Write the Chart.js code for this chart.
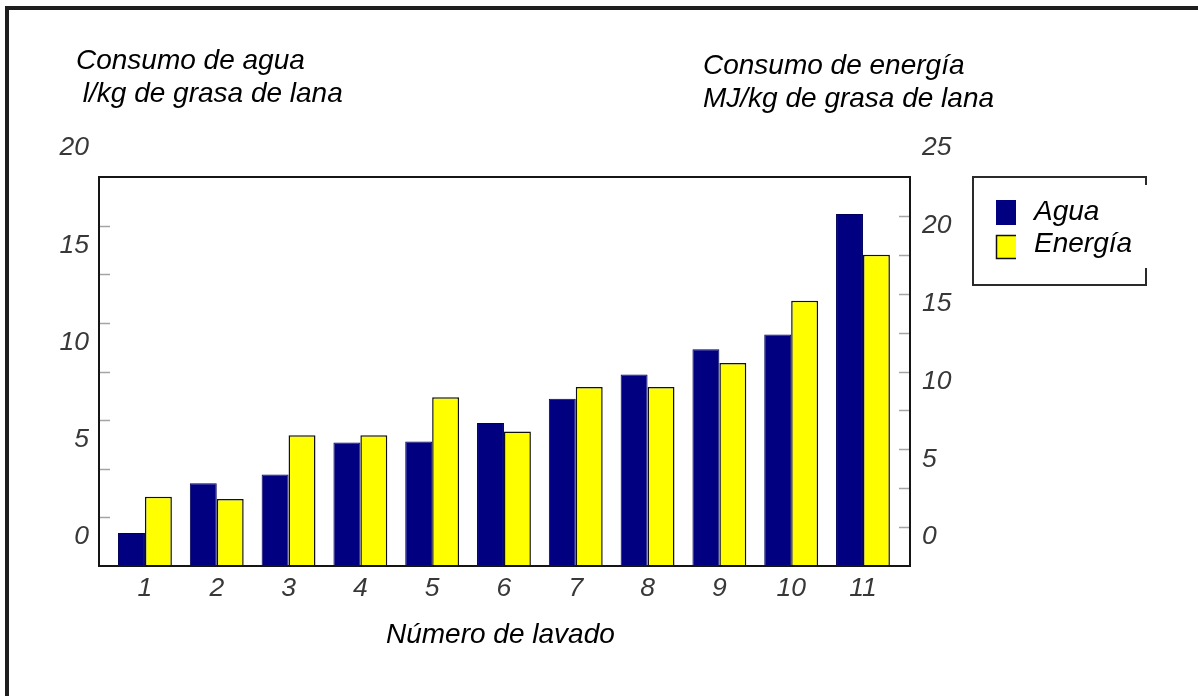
<!DOCTYPE html>
<html>
<head>
<meta charset="utf-8">
<script src="https://cdn.jsdelivr.net/npm/chart.js@4.4.1/dist/chart.umd.min.js"></script>
<style>
  html, body { margin: 0; padding: 0; background: #fff; }
  canvas { display: block; }
</style>
</head>
<body>
<canvas id="c" width="1198" height="696"></canvas>
<script>
// Wool scouring: water and energy use per wash line
const lavados = [1, 2, 3, 4, 5, 6, 7, 8, 9, 10, 11];
const agua = [1.7, 4.25, 4.7, 6.35, 6.4, 7.35, 8.6, 9.85, 11.15, 11.9, 18.1];      // l/kg
const energia = [4.45, 4.3, 8.4, 8.4, 10.85, 8.65, 11.5, 11.5, 13.05, 17.05, 20.0]; // MJ/kg

const aguaTicks = [0, 5, 10, 15, 20];
const energiaTicks = [0, 5, 10, 15, 20, 25];
const minorStep = 2.5;

const seriesNames = ['Agua', 'Energía'];
const seriesColors = ['#000080', '#ffff00'];
const titleAgua = ['Consumo de agua', ' l/kg de grasa de lana'];
const titleEnergia = ['Consumo de energía', 'MJ/kg de grasa de lana'];
const xTitle = 'Número de lavado';

const FAMILY = '"Liberation Sans", Arial, Helvetica, sans-serif';
const tickFont = { family: FAMILY, size: 26.5, style: 'italic' };
const tickColor = '#383838';
const textFont = 'italic 28px ' + FAMILY;

const decor = {
  id: 'decor',
  beforeDraw(chart) {
    const ctx = chart.ctx;
    ctx.save();
    ctx.fillStyle = '#fff';
    ctx.fillRect(0, 0, chart.width, chart.height);
    // page frame
    ctx.strokeStyle = '#1e1e1e';
    ctx.lineWidth = 4;
    ctx.beginPath();
    ctx.moveTo(7, chart.height);
    ctx.lineTo(7, 8);
    ctx.lineTo(chart.width, 8);
    ctx.stroke();
    ctx.restore();
  },
  afterDatasetsDraw(chart) {
    const { ctx, chartArea: a, scales } = chart;
    ctx.save();
    // short inner tick marks on both value axes
    ctx.strokeStyle = '#a4a4a4';
    ctx.lineWidth = 1.5;
    const inner = (scale, x0, dir) => {
      scale.ticks.forEach(t => {
        if (t.value <= scale.min || t.value >= scale.max) return;
        const p = Math.round(scale.getPixelForValue(t.value)) + 0.5;
        ctx.beginPath();
        ctx.moveTo(x0, p);
        ctx.lineTo(x0 + dir * 11, p);
        ctx.stroke();
      });
    };
    inner(scales.y, a.left, 1);
    inner(scales.y1, a.right, -1);
    // plot frame
    ctx.strokeStyle = '#151515';
    ctx.lineWidth = 2;
    ctx.strokeRect(a.left, a.top, a.right - a.left, a.bottom - a.top);
    ctx.restore();
  },
  afterDraw(chart) {
    const { ctx, chartArea: a } = chart;
    ctx.save();
    ctx.fillStyle = '#000';
    ctx.font = textFont;
    ctx.textAlign = 'left';
    ctx.textBaseline = 'alphabetic';
    // axis headings
    ctx.fillText(titleAgua[0], 76, 69);
    ctx.fillText(titleAgua[1], 75, 102);
    ctx.fillText(titleEnergia[0], 703, 74);
    ctx.fillText(titleEnergia[1], 703, 107);
    ctx.fillText(xTitle, 386, 643);

    // legend
    const lx = a.right + 63, ly = a.top, lr = 1146, lb = 285;
    ctx.strokeStyle = '#2a2a2a';
    ctx.lineWidth = 2;
    ctx.beginPath();
    ctx.moveTo(lr, ly + 8);
    ctx.lineTo(lr, ly);
    ctx.lineTo(lx, ly);
    ctx.lineTo(lx, lb);
    ctx.lineTo(lr, lb);
    ctx.lineTo(lr, ly + 91);
    ctx.stroke();

    const ds = chart.data.datasets;
    const sx = lx + 23, sw = 20;
    // navy swatch
    ctx.fillStyle = ds[0].backgroundColor;
    ctx.fillRect(sx, ly + 23, sw, 25);
    // yellow swatch with outline on three sides
    ctx.fillStyle = ds[1].backgroundColor;
    ctx.fillRect(sx, ly + 58, sw, 24);
    ctx.strokeStyle = '#111';
    ctx.lineWidth = 1.5;
    ctx.beginPath();
    ctx.moveTo(sx + sw, ly + 58.5);
    ctx.lineTo(sx + 0.5, ly + 58.5);
    ctx.lineTo(sx + 0.5, ly + 81.5);
    ctx.lineTo(sx + sw, ly + 81.5);
    ctx.stroke();

    ctx.fillStyle = '#000';
    ctx.font = textFont;
    ctx.fillText(ds[0].label, lx + 61, ly + 43);
    ctx.fillText(ds[1].label, lx + 61, ly + 75);
    ctx.restore();
  }
};

const tickLabel = list => v => (list.includes(v) ? String(v) : '');

new Chart(document.getElementById('c'), {
  type: 'bar',
  data: {
    datasets: [
      {
        label: seriesNames[0],
        data: lavados.map((n, i) => ({ x: n, y: agua[i] })),
        backgroundColor: seriesColors[0],
        borderColor: '#00005a',
        borderWidth: 1,
        yAxisID: 'y'
      },
      {
        label: seriesNames[1],
        data: lavados.map((n, i) => ({ x: n, y: energia[i] })),
        backgroundColor: seriesColors[1],
        borderColor: '#111',
        borderWidth: 1.5,
        yAxisID: 'y1'
      }
    ]
  },
  options: {
    responsive: false,
    animation: false,
    devicePixelRatio: 1,
    categoryPercentage: 0.75,
    barPercentage: 1.0,
    layout: { padding: { top: 177, left: 0, right: 0, bottom: 0 } },
    plugins: { legend: { display: false }, tooltip: { enabled: false } },
    scales: {
      x: {
        type: 'linear',
        min: 0.36,
        max: 11.655,
        offset: false,
        grid: { display: false, drawTicks: false },
        border: { display: false },
        ticks: { padding: 7, font: tickFont, color: tickColor, callback: v => String(v) },
        afterBuildTicks: s => { s.ticks = lavados.map(v => ({ value: v })); },
        afterFit: s => { s.height = 130; }
      },
      y: {
        position: 'left',
        min: 0,
        max: aguaTicks[aguaTicks.length - 1],
        grid: { display: false, drawTicks: false },
        border: { display: false },
        ticks: {
          stepSize: minorStep,
          padding: 10,
          labelOffset: -29,
          autoSkip: false,
          font: tickFont,
          color: tickColor,
          callback: tickLabel(aguaTicks)
        },
        afterFit: s => { s.width = 99; }
      },
      y1: {
        position: 'right',
        min: 0,
        max: energiaTicks[energiaTicks.length - 1],
        grid: { display: false, drawTicks: false },
        border: { display: false },
        ticks: {
          stepSize: minorStep,
          padding: 12,
          labelOffset: -29,
          autoSkip: false,
          font: tickFont,
          color: tickColor,
          callback: tickLabel(energiaTicks)
        },
        afterFit: s => { s.width = 1198 - 910; }
      }
    }
  },
  plugins: [decor]
});
</script>
</body>
</html>
